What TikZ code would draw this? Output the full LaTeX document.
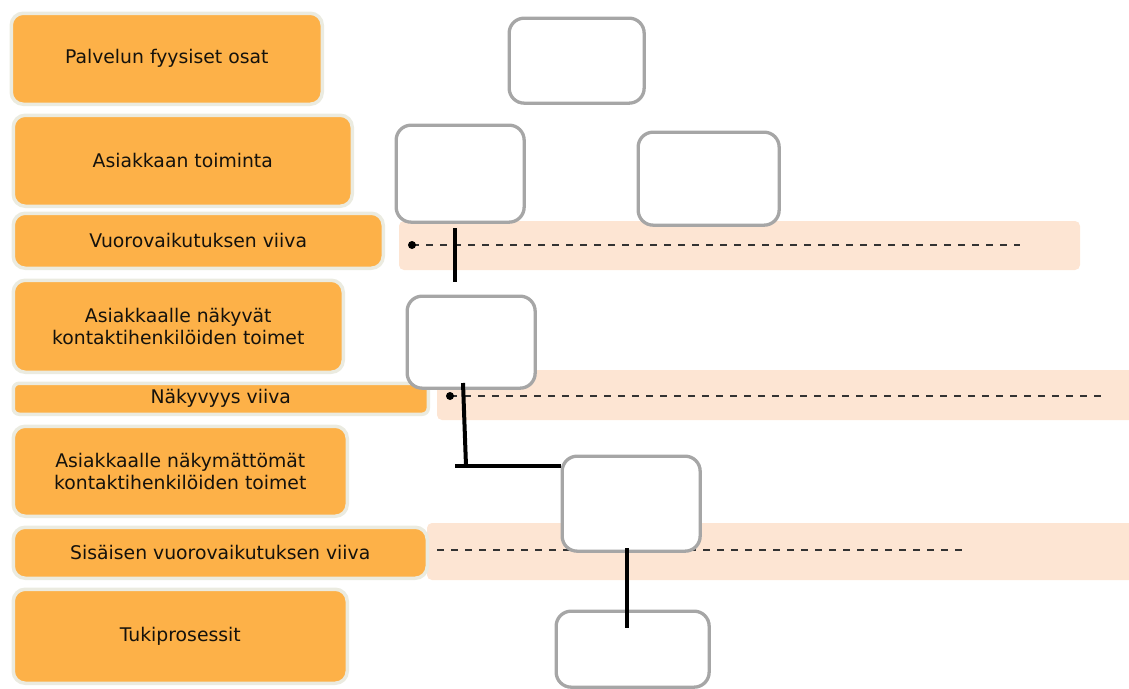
\documentclass[tikz,border=0pt]{standalone}
\usepackage{fontspec}
\setmainfont{DejaVu Sans}
\definecolor{orangefill}{HTML}{FDB148}
\definecolor{orangeborder}{HTML}{EBEBE0}
\definecolor{peach}{HTML}{FDE5D3}
\definecolor{boxgray}{HTML}{A6A6A6}
\definecolor{txt}{HTML}{15120C}
\definecolor{dashcol}{HTML}{333333}
\tikzset{
  obox/.style={draw=orangeborder, fill=orangefill, line width=3.5pt, rounded corners=12pt,
    anchor=north west, inner sep=0pt, align=center, text=txt,
    font=\fontsize{18.8}{22}\selectfont},
  band/.style={fill=peach, draw=none, rounded corners=5pt},
  wbox/.style={draw=boxgray, fill=white, line width=3.3pt, rounded corners=15pt, anchor=north west, inner sep=0pt},
  conn/.style={draw=black, line width=4pt},
  dline/.style={draw=dashcol, line width=1.5pt, dash pattern=on 7pt off 7pt},
}
\begin{document}
\begin{tikzpicture}[x=1pt,y=-1pt]
\useasboundingbox (0,0) rectangle (1129,688);
% peach bands
\fill[band] (399,221) rectangle (1080,270);
\fill[band] (437,370) rectangle (1135,420);
\fill[band] (427,523) rectangle (1135,580);
% orange label boxes
\node[obox, minimum width=311pt, minimum height=91pt] (l1) at (9.5,11.5) {Palvelun fyysiset osat};
\node[obox, minimum width=339pt, minimum height=91pt] (l2) at (11.5,113.5) {Asiakkaan toiminta};
\node[obox, minimum width=370pt, minimum height=55pt] (l3) at (11.5,211.5) {Vuorovaikutuksen viiva};
\node[obox, minimum width=330pt, minimum height=92pt] (l4) at (11.5,278.5) {Asiakkaalle näkyvät\\kontaktihenkilöiden toimet};
\node[obox, minimum width=415pt, minimum height=31pt, rounded corners=6pt] (l5) at (11.5,381.5) {Näkyvyys viiva};
\node[obox, minimum width=334pt, minimum height=90pt] (l6) at (11.5,424.5) {Asiakkaalle näkymättömät\\kontaktihenkilöiden toimet};
\node[obox, minimum width=414pt, minimum height=51pt] (l7) at (11.5,525.5) {Sisäisen vuorovaikutuksen viiva};
\node[obox, minimum width=334pt, minimum height=94pt] (l8) at (11.5,587.5) {Tukiprosessit};
% dashed lines
\coordinate (d1a) at (412,245); \coordinate (d1b) at (1020,245);
\coordinate (d2a) at (450,396); \coordinate (d2b) at (1105,396);
\coordinate (d3a) at (437,550); \coordinate (d3b) at (962,550);
\draw[dline] (d1a) -- (d1b);
\draw[dline] (d2a) -- (d2b);
\draw[dline] (d3a) -- (d3b);
\fill[black] (d1a) circle (4pt);
\fill[black] (d2a) circle (4pt);
% white boxes
\node[wbox, minimum width=135pt, minimum height=85pt] (A) at (507.5,16.5) {};
\node[wbox, minimum width=128pt, minimum height=97pt] (B) at (394.5,123.5) {};
\node[wbox, minimum width=141pt, minimum height=93pt] (C) at (636.5,130.5) {};
\node[wbox, minimum width=128pt, minimum height=92pt] (D) at (405.5,294.5) {};
\node[wbox, minimum width=138pt, minimum height=95pt] (E) at (560.5,454.5) {};
\node[wbox, minimum width=153pt, minimum height=76pt] (F) at (554.5,609.5) {};
% connectors
\coordinate (bd1) at (455,228); \coordinate (bd2) at (455,282);
\draw[conn] (bd1) -- (bd2);
\coordinate (de1) at (463,383); \coordinate (de2) at (466,466);
\coordinate (de3) at (455,466);
\draw[conn] (de1) -- (de2);
\draw[conn] (de3) -- (E.west |- de3);
\coordinate (ef1) at (627,548); \coordinate (ef2) at (627,628);
\draw[conn] (ef1) -- (ef2);
\end{tikzpicture}
\end{document}
